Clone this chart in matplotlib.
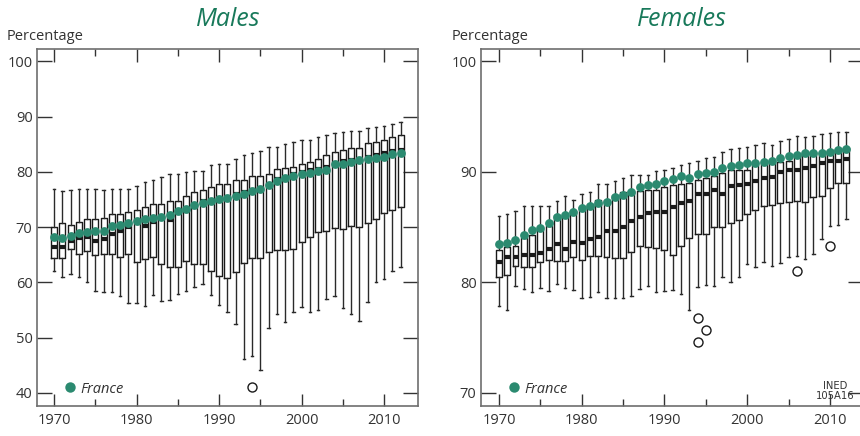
import matplotlib
matplotlib.use("Agg")
import matplotlib.pyplot as plt
from matplotlib.lines import Line2D
from matplotlib.ticker import MultipleLocator

plt.rcParams["font.family"] = ["Open Sans", "DejaVu Sans"]

years = list(range(1970, 2013))

# ---- Males: box statistics per year (percent) ----
m_whi = [77.0, 76.5, 76.7, 76.9, 76.9, 76.9, 76.7, 76.9, 77.0, 77.0,
         77.4, 78.2, 78.6, 79.1, 79.6, 79.6, 80.0, 80.2, 80.2, 81.3,
         81.5, 81.5, 82.3, 83.0, 83.5, 83.8, 84.5, 84.6, 85.1, 85.5,
         85.8, 85.8, 86.4, 86.7, 87.0, 87.2, 87.5, 87.5, 87.9, 88.2,
         88.3, 88.7, 89.0]
m_q3 = [70.0, 70.7, 70.4, 70.9, 71.4, 71.5, 71.7, 72.4, 72.4, 72.7,
        73.2, 73.7, 74.2, 74.2, 74.7, 74.8, 75.6, 76.3, 76.7, 77.3,
        77.9, 77.9, 78.5, 78.6, 79.3, 79.3, 79.7, 80.5, 80.7, 80.9,
        81.4, 81.8, 82.4, 83.0, 83.7, 83.9, 84.3, 84.4, 85.3, 85.5,
        85.8, 86.4, 86.7]
m_med = [66.5, 66.5, 67.5, 68.1, 68.3, 67.5, 67.9, 68.7, 69.4, 70.0,
         70.7, 70.2, 71.0, 71.6, 71.3, 73.0, 73.0, 73.7, 74.7, 74.7,
         75.3, 75.5, 76.0, 76.3, 76.7, 77.1, 77.7, 78.7, 78.6, 79.7,
         80.0, 80.3, 80.5, 80.9, 81.7, 82.0, 82.1, 82.3, 82.8, 83.1,
         83.4, 83.8, 84.0]
m_q1 = [64.4, 64.4, 66.0, 65.2, 65.7, 64.9, 65.2, 65.2, 64.7, 65.1,
        63.7, 64.2, 64.6, 63.3, 62.8, 62.8, 63.8, 63.3, 63.3, 62.0,
        61.2, 60.9, 61.9, 63.5, 64.5, 64.5, 65.5, 65.9, 65.9, 66.0,
        67.4, 68.3, 69.1, 69.4, 69.8, 69.7, 70.2, 70.0, 70.7, 71.4,
        72.5, 73.2, 73.7]
m_wlo = [62.0, 61.0, 61.5, 61.0, 60.0, 58.5, 58.3, 58.3, 57.5, 56.3,
         56.3, 55.7, 57.8, 56.6, 56.8, 58.0, 58.5, 59.1, 59.7, 57.7,
         56.0, 54.7, 52.5, 46.1, 46.7, 44.1, 51.7, 54.3, 52.8, 54.6,
         55.5, 54.6, 55.0, 57.0, 57.5, 55.4, 54.3, 53.1, 56.5, 60.1,
         60.7, 62.0, 62.8]
m_france = [68.2, 68.1, 68.4, 69.0, 69.2, 69.3, 69.3, 70.2, 70.4, 70.8,
            71.2, 71.4, 71.7, 71.9, 72.2, 73.0, 73.3, 74.1, 74.4, 74.7,
            75.1, 75.3, 75.7, 76.1, 76.5, 77.0, 77.6, 78.3, 78.9, 79.3,
            79.6, 79.9, 80.2, 80.3, 81.4, 81.5, 81.8, 82.1, 82.4, 82.6,
            82.8, 83.2, 83.5]
m_outliers = {1994: [41.1]}

# ---- Females: box statistics per year (percent) ----
f_whi = [86.0, 86.2, 86.5, 86.9, 86.9, 86.9, 86.9, 87.4, 87.8, 87.5,
         88.0, 88.2, 88.9, 88.9, 89.2, 89.5, 89.7, 89.75, 89.75, 90.05,
         90.2, 90.4, 90.65, 90.8, 91.0, 91.25, 91.4, 91.8, 92.1, 92.15,
         92.3, 92.4, 92.6, 92.45, 92.8, 93.0, 93.25, 93.15, 93.25, 93.4,
         93.55, 93.6, 93.65]
f_q3 = [82.9, 83.2, 83.3, 84.0, 84.3, 84.8, 85.1, 86.1, 86.0, 86.5,
        86.8, 87.1, 87.5, 87.5, 87.9, 88.15, 88.3, 88.3, 88.4, 88.4,
        88.6, 88.8, 88.9, 89.0, 89.3, 89.5, 89.6, 89.95, 90.2, 90.2,
        90.2, 90.6, 90.8, 90.8, 90.9, 91.0, 91.6, 91.75, 91.8, 91.75,
        92.0, 92.05, 92.15]
f_med = [81.85, 82.3, 82.3, 82.5, 82.5, 82.7, 83.0, 83.45, 83.05, 83.7,
         83.6, 83.9, 84.1, 84.7, 84.7, 85.05, 85.6, 85.9, 86.25, 86.4,
         86.35, 86.8, 87.15, 87.4, 88.05, 88.05, 88.35, 88.05, 88.75, 88.8,
         88.95, 89.2, 89.5, 89.55, 90.0, 90.15, 90.2, 90.4, 90.5, 90.8,
         90.95, 91.0, 91.15]
f_q1 = [80.5, 80.7, 81.5, 81.4, 81.4, 81.85, 82.0, 81.9, 81.9, 82.3,
        82.0, 82.4, 82.4, 82.3, 82.2, 82.2, 82.75, 83.3, 83.2, 83.1,
        82.9, 82.5, 83.3, 84.0, 84.35, 84.4, 85.05, 85.05, 85.35, 85.65,
        86.2, 86.55, 86.9, 87.05, 87.15, 87.25, 87.4, 87.3, 87.7, 87.8,
        88.55, 89.0, 89.0]
f_wlo = [77.9, 77.5, 79.7, 79.4, 79.1, 79.5, 79.2, 79.9, 79.5, 79.3,
         78.6, 78.7, 79.1, 78.6, 78.6, 78.6, 78.8, 79.4, 79.7, 79.1,
         79.2, 79.3, 79.0, 77.5, 79.55, 79.75, 79.7, 80.5, 80.0, 80.5,
         81.7, 81.4, 81.85, 81.5, 81.8, 82.3, 82.4, 82.1, 82.6, 83.9,
         85.1, 85.2, 85.7]
f_france = [83.45, 83.6, 83.85, 84.3, 84.75, 84.95, 85.4, 85.95, 86.1, 86.4,
            86.7, 86.9, 87.2, 87.3, 87.7, 87.9, 88.15, 88.6, 88.8, 88.9,
            89.2, 89.35, 89.6, 89.5, 89.8, 89.9, 90.0, 90.4, 90.5, 90.6,
            90.85, 90.85, 90.9, 91.0, 91.3, 91.45, 91.5, 91.7, 91.7, 91.7,
            91.85, 92.0, 92.1]
f_outliers = {1994: [76.75, 74.65], 1995: [75.7], 2006: [81.05], 2010: [83.3]}

GREEN_DOT = "#2b8a70"
GREEN_TITLE = "#18795a"
SPINE = "#6e6e6e"


def box_stats(whi, q3, med, q1, wlo, outliers):
    stats = []
    for i, yr in enumerate(years):
        stats.append(dict(whislo=wlo[i], q1=q1[i], med=med[i], q3=q3[i],
                          whishi=whi[i], fliers=outliers.get(yr, [])))
    return stats


def draw_panel(ax, stats, france, ylim, yticks, xlim):
    ax.bxp(stats, positions=years, widths=0.72, capwidths=0.3,
           showfliers=True, patch_artist=False, manage_ticks=False,
           boxprops=dict(color="#1a1a1a", linewidth=1.0),
           whiskerprops=dict(color="#2a2a2a", linewidth=1.0),
           capprops=dict(color="#2a2a2a", linewidth=1.0),
           medianprops=dict(color="#1a1a1a", linewidth=3.0,
                            solid_capstyle="butt"),
           flierprops=dict(marker="o", markersize=6.5,
                           markerfacecolor="white",
                           markeredgecolor="#1a1a1a",
                           markeredgewidth=1.0))
    ax.scatter(years, france, s=40, color=GREEN_DOT, zorder=5,
               linewidths=0)
    ax.set_xlim(*xlim)
    ax.set_ylim(*ylim)
    ax.set_yticks(yticks)
    ax.xaxis.set_major_locator(MultipleLocator(10))
    ax.xaxis.set_minor_locator(MultipleLocator(5))
    ax.tick_params(axis="x", which="major", direction="in", length=9,
                   width=1.0, color="#333333", top=True, bottom=True,
                   labelsize=10.5, labelcolor="#333333", pad=5)
    ax.tick_params(axis="x", which="minor", direction="in", length=5,
                   width=1.0, color="#333333", top=True, bottom=True)
    ax.tick_params(axis="y", which="major", direction="in", length=11,
                   width=1.0, color="#333333", left=True, right=True,
                   labelsize=10.5, labelcolor="#333333", pad=3)
    for sp in ax.spines.values():
        sp.set_color(SPINE)
        sp.set_linewidth(1.2)
    handle = Line2D([], [], marker="o", linestyle="none",
                    markersize=7.5, markerfacecolor=GREEN_DOT,
                    markeredgewidth=0)
    ax.legend([handle], ["France"], loc="lower left",
              bbox_to_anchor=(0.05, -0.003), frameon=False,
              handlelength=0.6, handletextpad=0.4, borderpad=0.2,
              prop=dict(style="italic", size=10.5),
              labelcolor="#333333")


fig = plt.figure(figsize=(8.6, 4.36), dpi=100)
ax_m = fig.add_axes([0.0427, 0.0695, 0.4434, 0.8174])
ax_f = fig.add_axes([0.559, 0.0695, 0.4445, 0.8174])

draw_panel(ax_m, box_stats(m_whi, m_q3, m_med, m_q1, m_wlo, m_outliers),
           m_france, (37.7, 102.2), [40, 50, 60, 70, 80, 90, 100],
           (1967.9, 2014.1))
draw_panel(ax_f, box_stats(f_whi, f_q3, f_med, f_q1, f_wlo, f_outliers),
           f_france, (68.85, 101.1), [70, 80, 90, 100],
           (1967.8, 2014.0))

fig.text(228 / 860, 1 - 19 / 436, "Males", ha="center", va="center",
         fontsize=18, style="italic", fontweight="medium",
         color=GREEN_TITLE)
fig.text(682 / 860, 1 - 19 / 436, "Females", ha="center", va="center",
         fontsize=18, style="italic", fontweight="medium",
         color=GREEN_TITLE)
fig.text(7 / 860, 1 - 37 / 436, "Percentage", ha="left", va="center",
         fontsize=10.5, color="#333333")
fig.text(452 / 860, 1 - 37 / 436, "Percentage", ha="left", va="center",
         fontsize=10.5, color="#333333")
fig.text(835 / 860, 1 - 391 / 436, "INED\n105A16", ha="center",
         va="center", fontsize=8, color="#333333", linespacing=0.9,
         family="DejaVu Sans", fontstretch="condensed")

fig.savefig("out.png", dpi=100)
